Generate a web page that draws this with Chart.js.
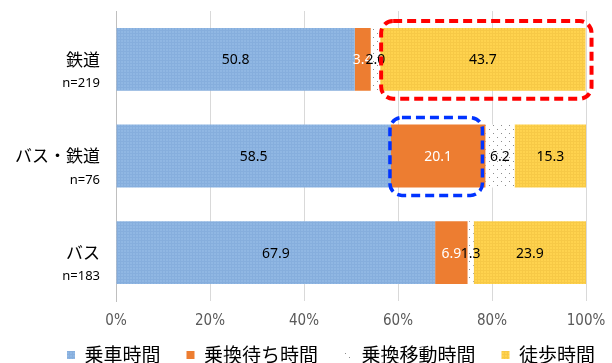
<!DOCTYPE html>
<html lang="ja">
<head>
<meta charset="utf-8">
<script src="https://cdn.jsdelivr.net/npm/chart.js@4/dist/chart.umd.min.js"></script>
<style>
  html, body { margin: 0; padding: 0; background: #fff; }
  #wrap { width: 612px; height: 363px; }
</style>
</head>
<body>
<div id="wrap"><canvas id="c" width="612" height="363"></canvas></div>
<script>
// Trip-time composition (%) by commuting mode
const categories = ['鉄道', 'バス・鉄道', 'バス'];
const sampleSizes = ['n=219', 'n=76', 'n=183'];
const seriesNames = ['乗車時間', '乗換待ち時間', '乗換移動時間', '徒歩時間'];
const rideTime     = [50.8, 58.5, 67.9];
const transferWait = [3.4, 20.1, 6.9];
const transferWalk = [2.0, 6.2, 1.3];
const walkTime     = [43.7, 15.3, 23.9];
const tickValues   = [0, 20, 40, 60, 80, 100];

const JP = '"Noto Sans CJK JP", "Noto Sans", sans-serif';

// Fine textured fills
function gridPattern(base, line) {
  const t = document.createElement('canvas');
  t.width = 3; t.height = 3;
  const g = t.getContext('2d');
  g.fillStyle = base; g.fillRect(0, 0, 3, 3);
  g.fillStyle = line;
  g.fillRect(0, 0, 3, 1);
  g.fillRect(0, 0, 1, 3);
  return g.createPattern(t, 'repeat');
}
function dotPattern() {
  const t = document.createElement('canvas');
  t.width = 8; t.height = 8;
  const g = t.getContext('2d');
  g.fillStyle = '#ffffff'; g.fillRect(0, 0, 8, 8);
  g.fillStyle = '#8c8c8c';
  g.fillRect(1, 1, 1, 1);
  g.fillRect(5, 5, 1, 1);
  return g.createPattern(t, 'repeat');
}

const fills = [
  gridPattern('#90b7e3', '#86aedd'),
  '#ed7d31',
  dotPattern(),
  gridPattern('#ffd34e', '#f7c946')
];
const labelColors = ['#000000', '#ffffff', '#000000', '#000000'];
const seriesData = [rideTime, transferWait, transferWalk, walkTime];

// Value labels centred in each segment
const valueLabels = {
  id: 'valueLabels',
  afterDatasetsDraw(chart) {
    const ctx = chart.ctx;
    ctx.save();
    ctx.font = '14px "Noto Sans", sans-serif';
    ctx.textAlign = 'center';
    ctx.textBaseline = 'middle';
    chart.data.datasets.forEach((ds, di) => {
      chart.getDatasetMeta(di).data.forEach((bar, i) => {
        const right = Math.min(bar.x, chart.chartArea.right);
        ctx.fillStyle = labelColors[di];
        ctx.fillText(ds.data[i].toFixed(1), (bar.base + right) / 2, bar.y + 1);
      });
    });
    ctx.restore();
  }
};

// Two-line category labels: mode name and sample size
const categoryLabels = {
  id: 'categoryLabels',
  afterDraw(chart) {
    const ctx = chart.ctx;
    const y = chart.scales.y;
    const x = chart.chartArea.left - 16;
    ctx.save();
    ctx.textAlign = 'right';
    ctx.textBaseline = 'middle';
    ctx.fillStyle = '#000';
    categories.forEach((c, i) => {
      const py = y.getPixelForValue(i);
      ctx.font = '17px ' + JP;
      ctx.fillText(c, x, py);
      ctx.font = '13px "Noto Sans", sans-serif';
      ctx.fillText(sampleSizes[i], x, py + 24);
    });
    ctx.restore();
  }
};

// Dashed highlight frames around selected segments
const highlights = {
  id: 'highlights',
  afterDraw(chart) {
    const ctx = chart.ctx;
    const frame = (di, i, color, width, pad) => {
      const bar = chart.getDatasetMeta(di).data[i];
      const right = Math.min(bar.x, chart.chartArea.right);
      const top = bar.y - bar.height / 2;
      const bottom = bar.y + bar.height / 2;
      ctx.save();
      ctx.strokeStyle = color;
      ctx.lineWidth = width;
      ctx.setLineDash([9, 5]);
      ctx.beginPath();
      ctx.roundRect(bar.base + pad[0], top + pad[1], right + pad[2] - bar.base - pad[0], bottom + pad[3] - top - pad[1], 12);
      ctx.stroke();
      ctx.restore();
    };
    frame(3, 0, '#ff0000', 4, [1, -7, 6, 8]);
    frame(1, 1, '#0033ff', 3.5, [-1, -7, -3, 8]);
  }
};

// Place the single-row legend just under the axis labels
const legendShift = {
  id: 'legendShift',
  afterLayout(chart) {
    const lg = chart.legend;
    if (lg) {
      lg.left += 25; lg.right += 25;
      lg.top -= 13.5; lg.bottom -= 13.5;
    }
  }
};

new Chart(document.getElementById('c'), {
  type: 'bar',
  data: {
    labels: categories,
    datasets: seriesNames.map((name, k) => ({
      label: name,
      data: seriesData[k],
      backgroundColor: fills[k],
      borderWidth: 0,
      categoryPercentage: 0.65,
      barPercentage: 1
    }))
  },
  options: {
    indexAxis: 'y',
    responsive: false,
    animation: false,
    devicePixelRatio: 1,
    layout: { padding: { left: 0, right: 0, top: 11, bottom: -25 } },
    scales: {
      x: {
        stacked: true,
        min: 0, max: 100,
        afterBuildTicks(scale) { scale.ticks = tickValues.map(v => ({ value: v })); },
        afterFit(scale) { scale.paddingRight = 26; scale.height = 32; },
        ticks: {
          padding: 11,
          color: '#595959',
          font: { family: '"DejaVu Sans Condensed", "Liberation Sans Narrow", "Liberation Sans", sans-serif', size: 15 },
          callback: v => v + '%'
        },
        grid: { color: '#d9d9d9', drawTicks: false },
        border: { display: false }
      },
      y: {
        stacked: true,
        ticks: { display: false },
        grid: { display: false },
        border: { display: true, color: '#bfbfbf' },
        afterFit(scale) { scale.width = 116; }
      }
    },
    plugins: {
      legend: {
        position: 'bottom',
        labels: {
          boxWidth: 8,
          boxHeight: 8,
          padding: 26,
          color: '#000',
          font: { family: JP, size: 19 }
        }
      },
      tooltip: { enabled: false }
    }
  },
  plugins: [valueLabels, categoryLabels, highlights, legendShift]
});
</script>
</body>
</html>
